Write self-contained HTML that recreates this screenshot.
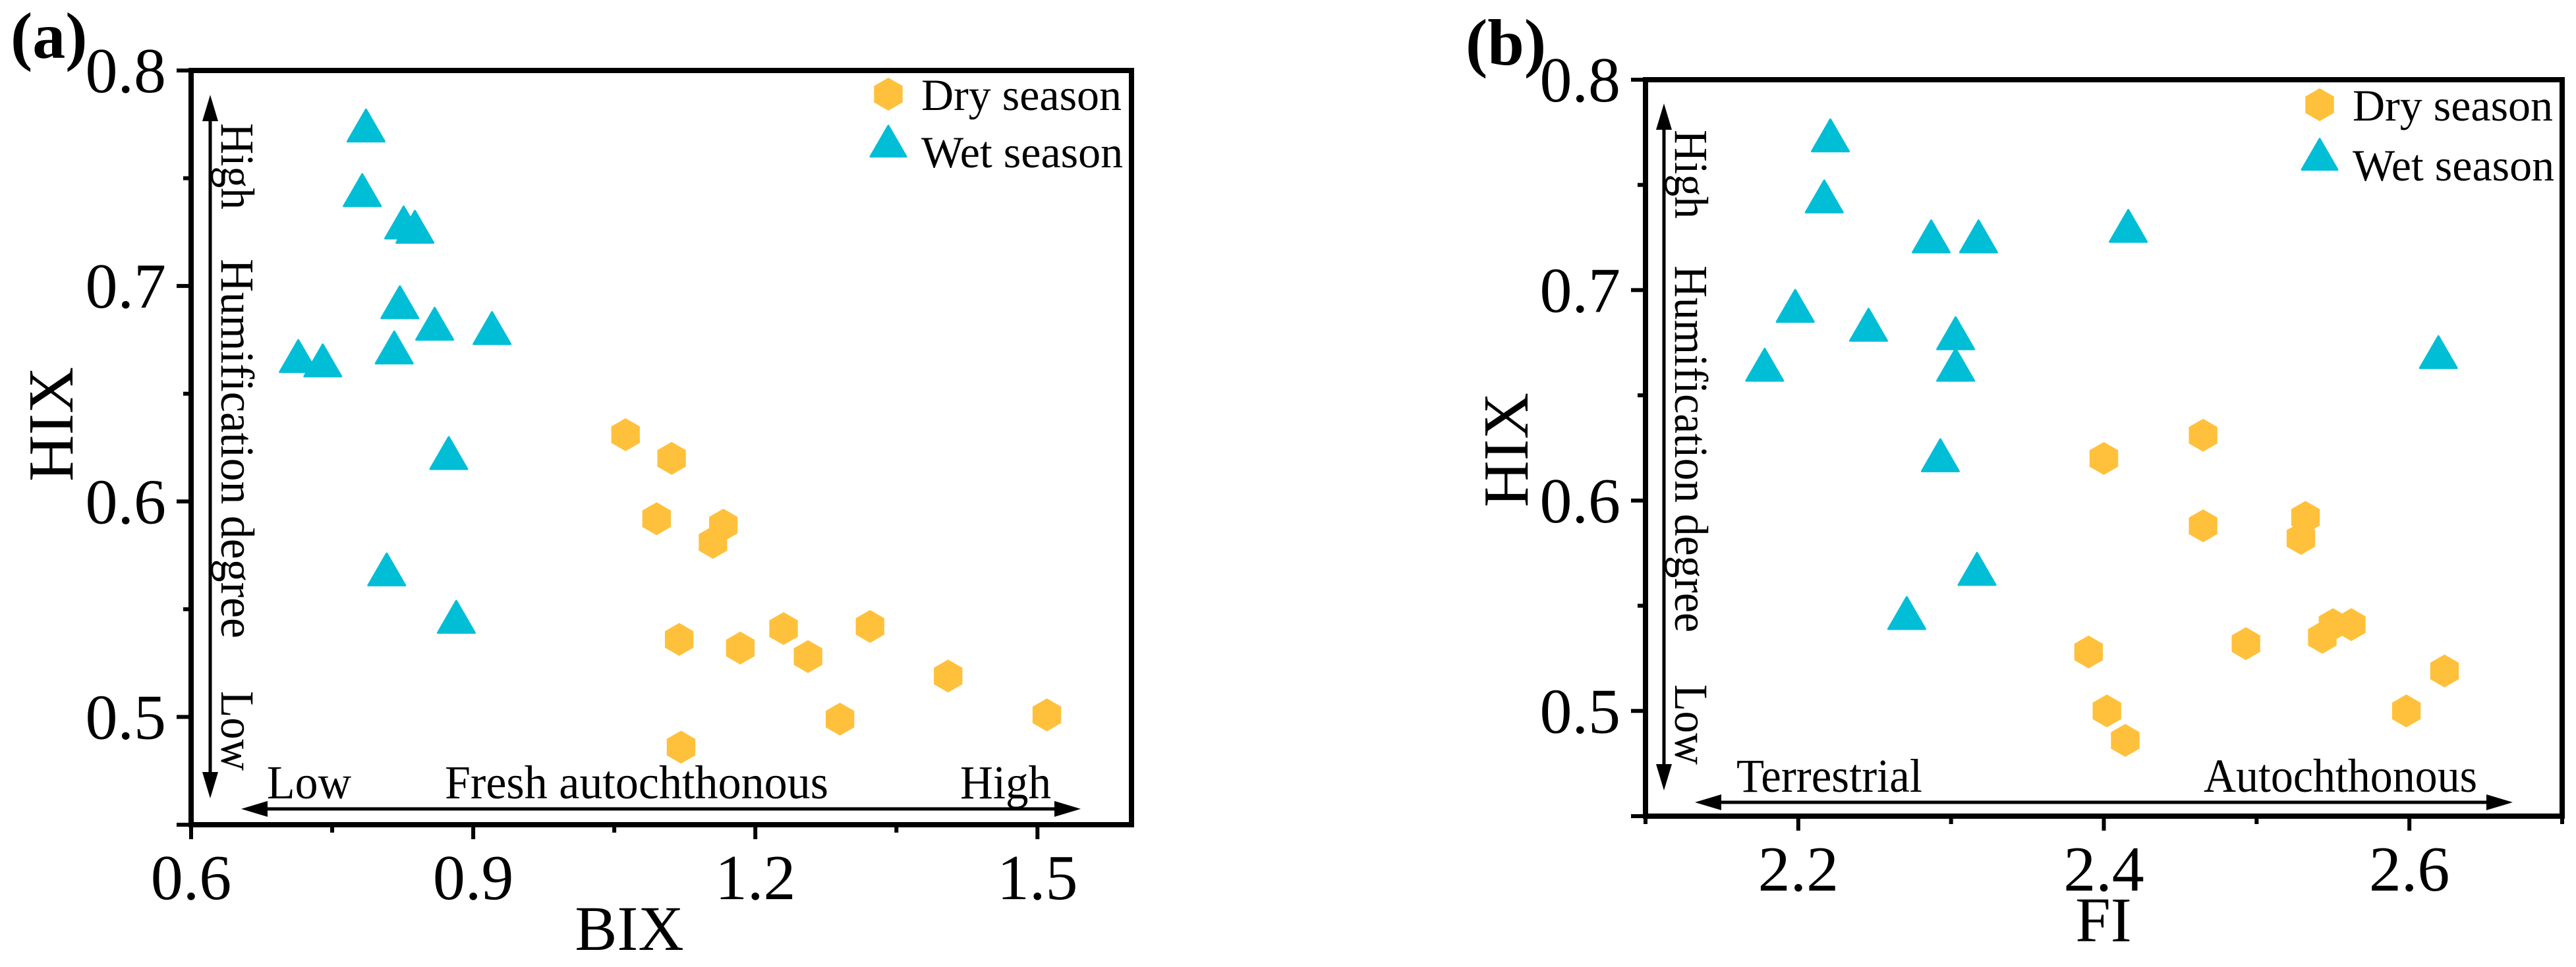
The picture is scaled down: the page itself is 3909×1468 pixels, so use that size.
<!DOCTYPE html>
<html><head><meta charset="utf-8"><style>
html,body{margin:0;padding:0;background:#fff;}
svg{display:block;font-family:"Liberation Serif","Times New Roman",serif;}
</style></head><body>
<svg id="chart" width="3909" height="1468" viewBox="0 0 3909 1468" xmlns="http://www.w3.org/2000/svg">
<g id="pa"></g>
<g id="pb"></g>
</svg>
<script>
// Panel (a) data
const aDryX = [1.062,1.111,1.095,1.166,1.155,1.119,1.184,1.230,1.256,1.322,1.405,1.290,1.510,1.121];
const aDryY = [0.631,0.620,0.592,0.589,0.581,0.536,0.532,0.541,0.528,0.542,0.519,0.499,0.501,0.486];
const aWetX = [0.786,0.782,0.826,0.838,0.822,0.859,0.920,0.816,0.714,0.740,0.874,0.808,0.882];
const aWetY = [0.772,0.742,0.727,0.725,0.690,0.680,0.678,0.669,0.665,0.663,0.620,0.566,0.544];
const aXTicks = [0.6,0.9,1.2,1.5];
const aXMinor = [0.75,1.05,1.35];
// Panel (b) data
const bDryX = [2.465,2.400,2.532,2.465,2.529,2.550,2.543,2.562,2.493,2.390,2.623,2.598,2.402,2.414];
const bDryY = [0.631,0.620,0.592,0.588,0.582,0.541,0.535,0.541,0.532,0.528,0.519,0.500,0.500,0.486];
const bWetX = [2.221,2.217,2.287,2.318,2.416,2.198,2.246,2.303,2.303,2.178,2.293,2.317,2.271,2.619];
const bWetY = [0.771,0.742,0.723,0.723,0.728,0.690,0.681,0.677,0.662,0.662,0.619,0.565,0.544,0.668];
const bXTicks = [2.2,2.4,2.6];
const bXMinor = [2.1,2.3,2.5,2.7];
const yTicks = [0.5,0.6,0.7,0.8];
const yMinor = [0.55,0.65,0.75];
const yLabels = ['0.5','0.6','0.7','0.8'];

const NS='http://www.w3.org/2000/svg';
function mk(parent,tag,attrs,text){const e=document.createElementNS(NS,tag);for(const k in attrs)e.setAttribute(k,attrs[k]);if(text!==undefined)e.textContent=text;parent.appendChild(e);return e;}
const DRY='#FFC13B', WET='#00BED6';
function hexPts(cx,cy,r){let p=[];for(let i=0;i<6;i++){const a=Math.PI/180*(60*i-90);p.push((cx+r*Math.cos(a)).toFixed(1)+','+(cy+r*Math.sin(a)).toFixed(1));}return p.join(' ');}
function triPts(cx,cy,s){const h=s*0.866;return `${cx},${cy-h*2/3} ${cx+s/2},${cy+h/3} ${cx-s/2},${cy+h/3}`;}
function head(g,tx,ty,dx,dy){ // tip at tx,ty pointing direction dx,dy
  const L=40,W=12;const px=-dy,py=dx;
  const bx=tx-dx*L,by=ty-dy*L;
  let p=mk(g,'polygon',{points:`${tx},${ty} ${bx+px*W},${by+py*W} ${bx-px*W},${by-py*W}`,fill:'#000'});
  
  
}

function panel(g,cfg){
  const sx=v=>cfg.L+(v-cfg.x0)/(cfg.x1-cfg.x0)*(cfg.R-cfg.L);
  const sy=v=>cfg.B-(v-0.45)/(0.8-0.45)*(cfg.B-cfg.T);
  let t=mk(g,'text',{x:cfg.tagX,y:cfg.tagY,'font-size':100,'font-weight':'bold'},cfg.tag);
  
  
  let fr=mk(g,'rect',{x:cfg.L,y:cfg.T,width:cfg.R-cfg.L,height:cfg.B-cfg.T,fill:'none',stroke:'#000','stroke-width':8});
  
  
  yTicks.forEach((v,i)=>{
    const y=sy(v);
    let l=mk(g,'line',{x1:cfg.L-22,x2:cfg.L,y1:y,y2:y,stroke:'#000','stroke-width':6});
    
    
    let tx=mk(g,'text',{x:cfg.L-38,y:y+33,'font-size':98,'text-anchor':'end'},yLabels[i]);
    
    
  });
  yMinor.forEach(v=>{const y=sy(v);
    let l=mk(g,'line',{x1:cfg.L-12,x2:cfg.L,y1:y,y2:y,stroke:'#000','stroke-width':6});
    
    });
  let yb=mk(g,'line',{x1:cfg.L-22,x2:cfg.L,y1:cfg.B,y2:cfg.B,stroke:'#000','stroke-width':6});
  
  
  cfg.xt.forEach(v=>{const x=sx(v);
    let l=mk(g,'line',{x1:x,x2:x,y1:cfg.B,y2:cfg.B+22,stroke:'#000','stroke-width':6});
    
    
    let tx=mk(g,'text',{x:x,y:cfg.B+113,'font-size':98,'text-anchor':'middle'},String(v.toFixed(1)));
    
    });
  cfg.xm.forEach(v=>{const x=sx(v);
    let l=mk(g,'line',{x1:x,x2:x,y1:cfg.B,y2:cfg.B+12,stroke:'#000','stroke-width':6});
    
    });
  let xt=mk(g,'text',{x:cfg.xtX,y:cfg.B+190,'font-size':96,'text-anchor':'middle'},cfg.xTitle);
  
  
  let yt=mk(g,'text',{x:0,y:0,'font-size':98,'text-anchor':'middle',transform:`translate(${cfg.ytX},${cfg.ytY}) rotate(-90)`},'HIX');
  
  
  // vertical arrow
  let va=mk(g,'line',{x1:cfg.vaX,x2:cfg.vaX,y1:cfg.vaTop+30,y2:cfg.vaBot-30,stroke:'#000','stroke-width':5});
  
  
  head(g,cfg.vaX,cfg.vaTop,0,-1);
  head(g,cfg.vaX,cfg.vaBot,0,1);
  cfg.vtexts.forEach(([s,a,b])=>{
    let e=mk(g,'text',{x:0,y:0,'font-size':72,textLength:b-a,lengthAdjust:'spacingAndGlyphs',transform:`translate(${cfg.vaX+17},${a}) rotate(90)`},s);
    
    
  });
  // horizontal arrow
  let ha=mk(g,'line',{x1:cfg.haL+30,x2:cfg.haR-30,y1:cfg.haY,y2:cfg.haY,stroke:'#000','stroke-width':5});
  
  
  head(g,cfg.haL,cfg.haY,-1,0);
  head(g,cfg.haR,cfg.haY,1,0);
  cfg.htexts.forEach(([s,a,b])=>{
    let e=mk(g,'text',{x:a,y:cfg.haY-16,'font-size':72,textLength:b-a,lengthAdjust:'spacingAndGlyphs'},s);
    
    
  });
  cfg.dx.forEach((v,i)=>{
    let p=mk(g,'polygon',{points:hexPts(sx(v),sy(cfg.dy[i]),25),fill:DRY});
    
    
  });
  cfg.wx.forEach((v,i)=>{
    let p=mk(g,'polygon',{points:triPts(sx(v),sy(cfg.wy[i]),56),fill:WET,stroke:WET,'stroke-width':3,'stroke-linejoin':'round'});
    
    
  });
  let lg=mk(g,'g',{});
  
  
  let h=mk(lg,'polygon',{points:hexPts(cfg.lgX,cfg.lgY1,25),fill:DRY});
  
  
  let d=mk(lg,'text',{x:cfg.lgX+50,y:cfg.lgY1+24,'font-size':68},'Dry season');
  
  
  let tr=mk(lg,'polygon',{points:triPts(cfg.lgX,cfg.lgY2,54),fill:WET,stroke:WET,'stroke-width':3,'stroke-linejoin':'round'});
  
  
  let w=mk(lg,'text',{x:cfg.lgX+50,y:cfg.lgY2+32,'font-size':68},'Wet season');
  
  
}

panel(document.getElementById('pa'),{
  L:290,R:1717,T:107,B:1252,x0:0.6,x1:1.6,xt:aXTicks,xm:aXMinor,
  tag:'(a)',tagX:16,tagY:88,xTitle:'BIX',xtX:955,ytX:110,ytY:644,
  vaX:319,vaTop:144,vaBot:1212,
  vtexts:[['High',187,318],['Humification degree',393,969],['Low',1049,1170]],
  haL:366,haR:1640,haY:1228,
  htexts:[['Low',405,533],['Fresh autochthonous',675,1257],['High',1457,1595]],
  dx:aDryX,dy:aDryY,wx:aWetX,wy:aWetY,
  lgX:1348,lgY1:143,lgY2:222
});
panel(document.getElementById('pb'),{
  L:2497,R:3888,T:121,B:1239,x0:2.1,x1:2.7,xt:bXTicks,xm:bXMinor,
  tag:'(b)',tagX:2224,tagY:98,xTitle:'FI',xtX:3192,ytX:2318,ytY:683,
  vaX:2525,vaTop:157,vaBot:1200,
  vtexts:[['High',197,332],['Humification degree',403,960],['Low',1039,1161]],
  haL:2572,haR:3813,haY:1218,
  htexts:[['Terrestrial',2635,2917],['Autochthonous',3344,3759]],
  dx:bDryX,dy:bDryY,wx:bWetX,wy:bWetY,
  lgX:3520,lgY1:159,lgY2:242
});
</script>
</body></html>
